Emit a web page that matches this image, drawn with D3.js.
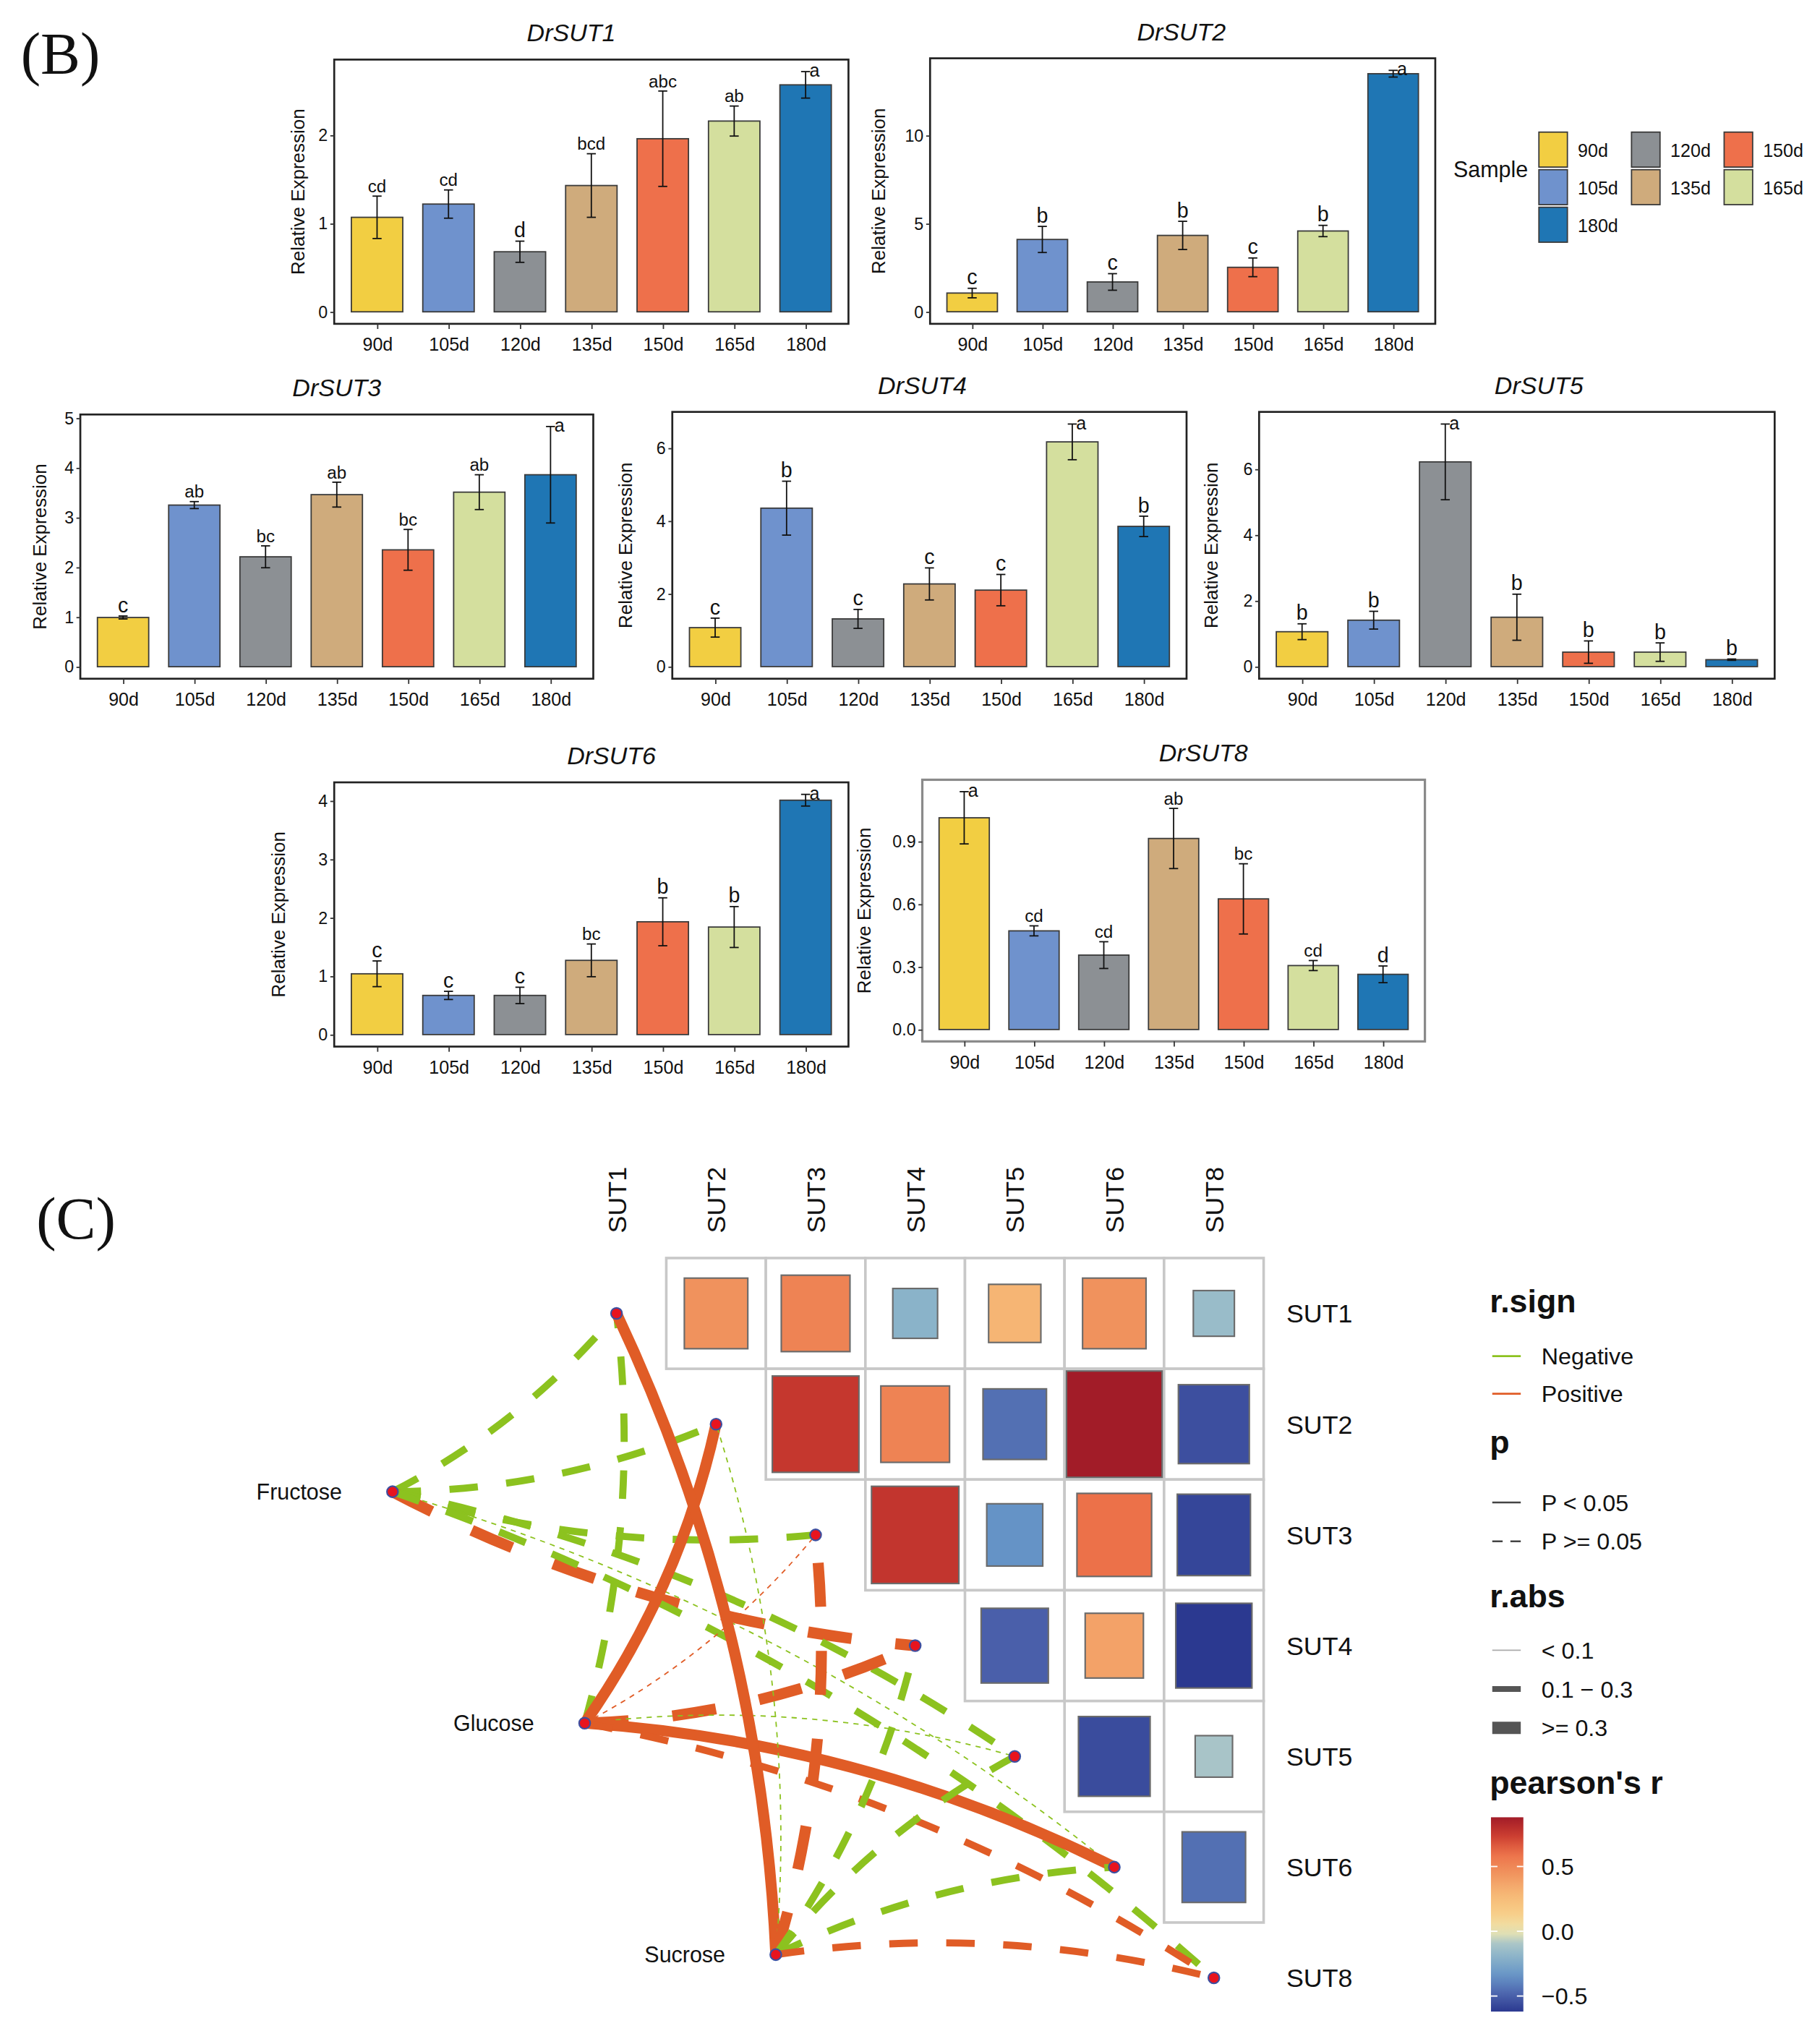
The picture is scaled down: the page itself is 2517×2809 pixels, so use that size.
<!DOCTYPE html>
<html lang="en">
<head>
<meta charset="UTF-8">
<title>DrSUT expression and correlation</title>
<script src="https://cdn.jsdelivr.net/npm/d3@7"></script>
<style>
  body { margin: 0; background: #fff; }
  text { font-family: "Liberation Sans", Arial, sans-serif; fill: #111; }
</style>
</head>
<body>
<svg id="fig"></svg>
<script>
// ---------- data: panel B ----------
const samples = ["90d", "105d", "120d", "135d", "150d", "165d", "180d"];
const legendOrder = ["90d", "120d", "150d", "105d", "135d", "165d", "180d"];

const sut1Mean = [1.07, 1.22, 0.68, 1.43, 1.96, 2.16, 2.57];
const sut1Sd   = [0.24, 0.16, 0.12, 0.36, 0.54, 0.17, 0.15];
const sut1Sig  = ["cd", "cd", "d", "bcd", "abc", "ab", "a"];
const sut1Ticks = [0, 1, 2];

const sut2Mean = [1.06, 4.10, 1.69, 4.33, 2.52, 4.58, 13.50];
const sut2Sd   = [0.27, 0.74, 0.47, 0.80, 0.53, 0.32, 0.19];
const sut2Sig  = ["c", "b", "c", "b", "c", "b", "a"];
const sut2Ticks = [0, 5, 10];

const sut3Mean = [0.99, 3.25, 2.21, 3.46, 2.35, 3.51, 3.86];
const sut3Sd   = [0.03, 0.07, 0.22, 0.25, 0.41, 0.35, 0.97];
const sut3Sig  = ["c", "ab", "bc", "ab", "bc", "ab", "a"];
const sut3Ticks = [0, 1, 2, 3, 4, 5];

const sut4Mean = [1.07, 4.35, 1.31, 2.27, 2.10, 6.17, 3.85];
const sut4Sd   = [0.26, 0.74, 0.26, 0.44, 0.43, 0.49, 0.28];
const sut4Sig  = ["c", "b", "c", "c", "c", "a", "b"];
const sut4Ticks = [0, 2, 4, 6];

const sut5Mean = [1.06, 1.41, 6.22, 1.50, 0.44, 0.44, 0.21];
const sut5Sd   = [0.24, 0.27, 1.15, 0.70, 0.34, 0.28, 0.02];
const sut5Sig  = ["b", "b", "a", "b", "b", "b", "b"];
const sut5Ticks = [0, 2, 4, 6];

const sut6Mean = [1.04, 0.67, 0.67, 1.27, 1.93, 1.84, 4.01];
const sut6Sd   = [0.22, 0.07, 0.14, 0.28, 0.41, 0.35, 0.10];
const sut6Sig  = ["c", "c", "c", "bc", "b", "b", "a"];
const sut6Ticks = [0, 1, 2, 3, 4];

const sut8Mean = [1.013, 0.472, 0.356, 0.914, 0.625, 0.306, 0.264];
const sut8Sd   = [0.125, 0.024, 0.064, 0.144, 0.168, 0.024, 0.040];
const sut8Sig  = ["a", "cd", "cd", "ab", "bc", "cd", "d"];
const sut8Ticks = [0, 0.3, 0.6, 0.9];

// ---------- data: panel C ----------
const suts = ["SUT1", "SUT2", "SUT3", "SUT4", "SUT5", "SUT6", "SUT8"];
const envs = ["Fructose", "Glucose", "Sucrose"];

// pearson's r of each SUT with the SUTs after it
const corrSUT1 = [0.45, 0.52, -0.20, 0.30, 0.45, -0.15];
const corrSUT2 = [0.76, 0.52, -0.45, 0.88, -0.55];
const corrSUT3 = [0.77, -0.35, 0.60, -0.58];
const corrSUT4 = [-0.50, 0.38, -0.62];
const corrSUT5 = [-0.56, -0.10];
const corrSUT6 = [-0.45];

// sugar vs SUT links (r, p) in the order of suts
const fructoseR = [-0.22, -0.20, -0.24, 0.36, -0.21, -0.05, -0.20];
const fructoseP = [0.21, 0.25, 0.16, 0.20, 0.30, 0.82, 0.31];
const glucoseR  = [-0.22, 0.62, 0.06, 0.38, -0.05, 0.65, 0.25];
const glucoseP  = [0.22, 0.01, 0.80, 0.15, 0.85, 0.01, 0.24];
const sucroseR  = [0.60, -0.04, 0.40, -0.25, -0.22, -0.23, 0.24];
const sucroseP  = [0.01, 0.90, 0.12, 0.20, 0.21, 0.22, 0.26];

// ---------- styles ----------
const sampleColors = ["#F2CE42", "#6F92CD", "#8C9094", "#CFAB7C", "#EE704B", "#D4DF9E", "#1F76B4"];
const color = d3.scaleOrdinal().domain(samples).range(sampleColors);

const corrColor = d3.scaleLinear()
  .domain([-0.62, -0.5, -0.35, -0.2, -0.1, 0, 0.15, 0.3, 0.45, 0.6, 0.75, 0.88])
  .range(["#2B3990", "#4A5FAA", "#6593C6", "#8AB3C9", "#A8C4C8", "#EDE6B0",
          "#F8CC85", "#F6B574", "#F0925D", "#EC7149", "#C8392F", "#A21C28"])
  .clamp(true);
const posCol = "#E05C26", negCol = "#8CC21F";

const svg = d3.select("#fig")
  .attr("width", 2517).attr("height", 2809)
  .attr("viewBox", "0 0 1405 1568");
svg.append("rect").attr("width", 1405).attr("height", 1568).attr("fill", "#fff");

svg.append("text").attr("x", 16).attr("y", 57)
  .style("font-family", "'Liberation Serif', 'DejaVu Serif', serif")
  .attr("font-size", 46).text("(B)");
svg.append("text").attr("x", 28).attr("y", 956)
  .style("font-family", "'Liberation Serif', 'DejaVu Serif', serif")
  .attr("font-size", 46).text("(C)");

// ---------- panel B: bar charts ----------
const panels = [
  { name: "DrSUT1", mean: sut1Mean, sd: sut1Sd, sig: sut1Sig, ticks: sut1Ticks, x: 258, y: 46,  w: 397, h: 204, tx: 441,  yl: 23 },
  { name: "DrSUT2", mean: sut2Mean, sd: sut2Sd, sig: sut2Sig, ticks: sut2Ticks, x: 718, y: 45,  w: 390, h: 205, tx: 912,  yl: 35 },
  { name: "DrSUT3", mean: sut3Mean, sd: sut3Sd, sig: sut3Sig, ticks: sut3Ticks, x: 62,  y: 320, w: 396, h: 204, tx: 260,  yl: 26 },
  { name: "DrSUT4", mean: sut4Mean, sd: sut4Sd, sig: sut4Sig, ticks: sut4Ticks, x: 519, y: 318, w: 397, h: 206, tx: 712,  yl: 31 },
  { name: "DrSUT5", mean: sut5Mean, sd: sut5Sd, sig: sut5Sig, ticks: sut5Ticks, x: 972, y: 318, w: 398, h: 206, tx: 1188, yl: 32 },
  { name: "DrSUT6", mean: sut6Mean, sd: sut6Sd, sig: sut6Sig, ticks: sut6Ticks, x: 258, y: 604, w: 397, h: 204, tx: 472,  yl: 38 },
  { name: "DrSUT8", mean: sut8Mean, sd: sut8Sd, sig: sut8Sig, ticks: sut8Ticks, x: 712, y: 602, w: 388, h: 202, tx: 929,  yl: 40, frame: "#8a8a8a" }
];

function barPanel(p) {
  const g = svg.append("g");
  const x = d3.scalePoint().domain(samples).range([p.x, p.x + p.w]).padding(0.6);
  const top = d3.max(p.mean, (m, i) => m + p.sd[i]);
  const y = d3.scaleLinear().domain([-0.05 * top, top * 1.05]).range([p.y + p.h, p.y]);
  const bw = x.step() * 0.72;
  const rows = samples.map((s, i) => ({ s, m: p.mean[i], sd: p.sd[i], sig: p.sig[i] }));

  g.selectAll("rect.bar").data(rows).join("rect")
    .attr("x", d => x(d.s) - bw / 2).attr("width", bw)
    .attr("y", d => y(d.m)).attr("height", d => y(0) - y(d.m))
    .attr("fill", d => color(d.s)).attr("stroke", "#3a3a3a").attr("stroke-width", 1);

  const eb = g.selectAll("g.err").data(rows).join("g").attr("stroke", "#111").attr("stroke-width", 1);
  eb.append("line").attr("x1", d => x(d.s)).attr("x2", d => x(d.s))
    .attr("y1", d => y(d.m - d.sd)).attr("y2", d => y(d.m + d.sd));
  eb.append("line").attr("x1", d => x(d.s) - 3.5).attr("x2", d => x(d.s) + 3.5)
    .attr("y1", d => y(d.m + d.sd)).attr("y2", d => y(d.m + d.sd));
  eb.append("line").attr("x1", d => x(d.s) - 3.5).attr("x2", d => x(d.s) + 3.5)
    .attr("y1", d => y(d.m - d.sd)).attr("y2", d => y(d.m - d.sd));

  // significance letters; the one hitting the top edge goes beside its cap
  g.selectAll("text.sig").data(rows).join("text")
    .each(function (d) {
      const yt = y(d.m + d.sd);
      const fs = d.sig.length > 1 ? 13.5 : 16;
      const t = d3.select(this).attr("font-size", fs);
      if (yt - 18 < p.y) {
        t.attr("x", x(d.s) + 3).attr("y", yt + 4).attr("text-anchor", "start").attr("font-size", 14);
      } else {
        t.attr("x", x(d.s)).attr("y", yt - 3).attr("text-anchor", "middle");
      }
    })
    .text(d => d.sig);

  g.append("rect").attr("x", p.x).attr("y", p.y).attr("width", p.w).attr("height", p.h)
    .attr("fill", "none").attr("stroke", p.frame || "#222").attr("stroke-width", p.frame ? 1.8 : 1.5);

  const xa = g.append("g").attr("transform", `translate(0,${p.y + p.h})`)
    .call(d3.axisBottom(x).tickSize(4).tickPadding(7));
  const fmt = p.ticks.some(t => t % 1 !== 0) ? d3.format(".1f") : d3.format("d");
  const ya = g.append("g").attr("transform", `translate(${p.x},0)`)
    .call(d3.axisLeft(y).tickValues(p.ticks).tickFormat(fmt).tickSize(3).tickPadding(2));
  [xa, ya].forEach(a => {
    a.select(".domain").remove();
    a.selectAll("line").attr("stroke", "#333");
    a.selectAll("text").attr("font-size", 14).style("font-family", "'Liberation Sans', Arial, sans-serif").attr("fill", "#111");
  });
  ya.selectAll("text").attr("font-size", 13);

  g.append("text").attr("x", p.tx).attr("y", p.y - 14).attr("text-anchor", "middle")
    .attr("font-size", 19).attr("font-style", "italic").text(p.name);
  g.append("text").attr("transform", `translate(${p.x - p.yl},${p.y + p.h / 2}) rotate(-90)`)
    .attr("text-anchor", "middle").attr("font-size", 14.5).text("Relative Expression");
}
panels.forEach(barPanel);

// sample legend
const lg = svg.append("g").attr("transform", "translate(1188,102)");
svg.append("text").attr("x", 1122).attr("y", 137).attr("font-size", 17).text("Sample");
const lk = lg.selectAll("g").data(legendOrder).join("g")
  .attr("transform", (d, i) => `translate(${(i % 3) * 71.5},${Math.floor(i / 3) * 29})`);
lk.append("rect").attr("width", 22).attr("height", 27)
  .attr("fill", d => color(d)).attr("stroke", "#3a3a3a").attr("stroke-width", 1);
lk.append("text").attr("x", 30).attr("y", 19).attr("font-size", 14).text(d => d);

// ---------- panel C: correlation matrix + links ----------
const col = d3.scaleBand().domain(suts).range([437.5, 975.5]);
const row = d3.scaleBand().domain(suts).range([971.25, 1569.75]);
const gx = d3.scaleLinear().domain([0, 1]).range([col("SUT1") + col.bandwidth() / 2, col("SUT2") + col.bandwidth() / 2]);
const gy = d3.scaleLinear().domain([0, 1]).range([row("SUT1") + row.bandwidth() / 2, row("SUT2") + row.bandwidth() / 2]);

const corrRows = [corrSUT1, corrSUT2, corrSUT3, corrSUT4, corrSUT5, corrSUT6];
const cells = [];
corrRows.forEach((vals, i) => vals.forEach((r, k) => cells.push({ a: suts[i], b: suts[i + 1 + k], r })));

const gc = svg.append("g");
gc.selectAll("rect.cell").data(cells).join("rect")
  .attr("x", d => col(d.b)).attr("y", d => row(d.a))
  .attr("width", col.bandwidth()).attr("height", row.bandwidth())
  .attr("fill", "#fff").attr("stroke", "#C8C8C8").attr("stroke-width", 2);
const side = r => 0.3 + 0.75 * Math.abs(r);
gc.selectAll("rect.sq").data(cells).join("rect")
  .attr("x", d => col(d.b) + col.bandwidth() * (1 - side(d.r)) / 2)
  .attr("y", d => row(d.a) + row.bandwidth() * (1 - side(d.r)) / 2)
  .attr("width", d => col.bandwidth() * side(d.r))
  .attr("height", d => row.bandwidth() * side(d.r))
  .attr("fill", d => corrColor(d.r)).attr("stroke", "#6b6b6b").attr("stroke-width", 1.2);

// column / row labels
gc.selectAll("text.cl").data(suts).join("text")
  .attr("transform", d => `translate(${col(d) + col.bandwidth() / 2},952) rotate(-90)`)
  .attr("dy", "0.36em").attr("font-size", 20).text(d => d);
gc.selectAll("text.rl").data(suts).join("text")
  .attr("x", 993).attr("y", d => row(d) + row.bandwidth() / 2)
  .attr("dy", "0.36em").attr("font-size", 20).text(d => d);

// node positions (env nodes in grid units along the diagonal)
const envGrid = [[-2.25, 1.61], [-0.32, 3.70], [1.60, 5.79]];
const envPos = envs.map((e, k) => ({ name: e, x: gx(envGrid[k][0]), y: gy(envGrid[k][1]) }));
const sutPos = suts.map(s => ({ name: s, x: col(s) + col.bandwidth() / 2, y: row(s) + row.bandwidth() / 2 }));

const linkR = [fructoseR, glucoseR, sucroseR];
const linkP = [fructoseP, glucoseP, sucroseP];
const links = [];
envPos.forEach((e, k) => sutPos.forEach((s, j) => links.push({ e, s, j, r: linkR[k][j], p: linkP[k][j] })));

const widthOf = r => Math.abs(r) < 0.1 ? 1 : (Math.abs(r) < 0.3 ? 5.5 : 8.5);
function curve(d) {
  const dx = d.s.x - d.e.x, dy = d.s.y - d.e.y;
  const sgn = d.j < 4 ? 1 : -1;
  const cx = (d.e.x + d.s.x) / 2 + sgn * 0.1 * -dy;
  const cy = (d.e.y + d.s.y) / 2 + sgn * 0.1 * dx;
  const path = d3.path();
  path.moveTo(d.e.x, d.e.y);
  path.quadraticCurveTo(cx, cy, d.s.x, d.s.y);
  return path.toString();
}
const gl = svg.append("g");
gl.selectAll("path").data(links).join("path")
  .attr("d", curve).attr("fill", "none")
  .attr("stroke", d => d.r < 0 ? negCol : posCol)
  .attr("stroke-width", d => widthOf(d.r))
  .attr("stroke-dasharray", d => d.p < 0.05 ? null : `${4 * widthOf(d.r)} ${4 * widthOf(d.r)}`);

const nodes = envPos.concat(sutPos);
gl.selectAll("circle").data(nodes).join("circle")
  .attr("cx", d => d.x).attr("cy", d => d.y).attr("r", 4.3)
  .attr("fill", "#E8141E").attr("stroke", "#3D4FA0").attr("stroke-width", 1.2);
gl.selectAll("text").data(envPos).join("text")
  .attr("x", d => d.x - 39).attr("y", d => d.y).attr("dy", "0.36em")
  .attr("text-anchor", "end").attr("font-size", 17).text(d => d.name);

// ---------- panel C legends ----------
const lc = svg.append("g").attr("transform", "translate(1150,0)");
const title = (t, y) => lc.append("text").attr("x", 0).attr("y", y).attr("font-size", 25).attr("font-weight", "bold").text(t);
const item = (t, y) => lc.append("text").attr("x", 40).attr("y", y).attr("dy", "0.36em").attr("font-size", 18).text(t);

title("r.sign", 1013);
lc.append("line").attr("x1", 2).attr("x2", 24).attr("y1", 1047).attr("y2", 1047).attr("stroke", negCol).attr("stroke-width", 1.6);
lc.append("line").attr("x1", 2).attr("x2", 24).attr("y1", 1076).attr("y2", 1076).attr("stroke", posCol).attr("stroke-width", 1.6);
item("Negative", 1047); item("Positive", 1076);

title("p", 1122);
lc.append("line").attr("x1", 2).attr("x2", 24).attr("y1", 1160).attr("y2", 1160).attr("stroke", "#444").attr("stroke-width", 1.4);
lc.append("line").attr("x1", 2).attr("x2", 24).attr("y1", 1190).attr("y2", 1190).attr("stroke", "#444").attr("stroke-width", 1.4).attr("stroke-dasharray", "8 6");
item("P < 0.05", 1160); item("P >= 0.05", 1190);

title("r.abs", 1241);
lc.append("line").attr("x1", 2).attr("x2", 24).attr("y1", 1274).attr("y2", 1274).attr("stroke", "#aaa").attr("stroke-width", 1);
lc.append("line").attr("x1", 2).attr("x2", 24).attr("y1", 1304).attr("y2", 1304).attr("stroke", "#555").attr("stroke-width", 4.5);
lc.append("line").attr("x1", 2).attr("x2", 24).attr("y1", 1334).attr("y2", 1334).attr("stroke", "#555").attr("stroke-width", 9.5);
item("< 0.1", 1274); item("0.1 \u2212 0.3", 1304); item(">= 0.3", 1334);

title("pearson's r", 1385);
const [rMin, rMax] = d3.extent(corrColor.domain());
const cb = d3.scaleLinear().domain([rMin, rMax]).range([1553, 1403]);
const grad = svg.append("defs").append("linearGradient").attr("id", "cbar")
  .attr("x1", 0).attr("y1", 1).attr("x2", 0).attr("y2", 0);
d3.range(0, 1.0001, 0.05).forEach(t => grad.append("stop")
  .attr("offset", t).attr("stop-color", corrColor(rMin + t * (rMax - rMin))));
lc.append("rect").attr("x", 1).attr("y", cb(rMax)).attr("width", 25).attr("height", cb(rMin) - cb(rMax))
  .attr("fill", "url(#cbar)");
const cbTicks = [0.5, 0, -0.5];
lc.selectAll("line.cbt").data(cbTicks).join("line")
  .attr("x1", 1).attr("x2", 6).attr("y1", d => cb(d)).attr("y2", d => cb(d)).attr("stroke", "#fff").attr("stroke-width", 1);
lc.selectAll("line.cbt2").data(cbTicks).join("line")
  .attr("x1", 21).attr("x2", 26).attr("y1", d => cb(d)).attr("y2", d => cb(d)).attr("stroke", "#fff").attr("stroke-width", 1);
lc.selectAll("text.cbl").data(cbTicks).join("text")
  .attr("x", 40).attr("y", d => cb(d)).attr("dy", "0.36em").attr("font-size", 18)
  .text(d => d3.format(".1f")(d).replace("-", "\u2212"));
</script>
</body>
</html>
